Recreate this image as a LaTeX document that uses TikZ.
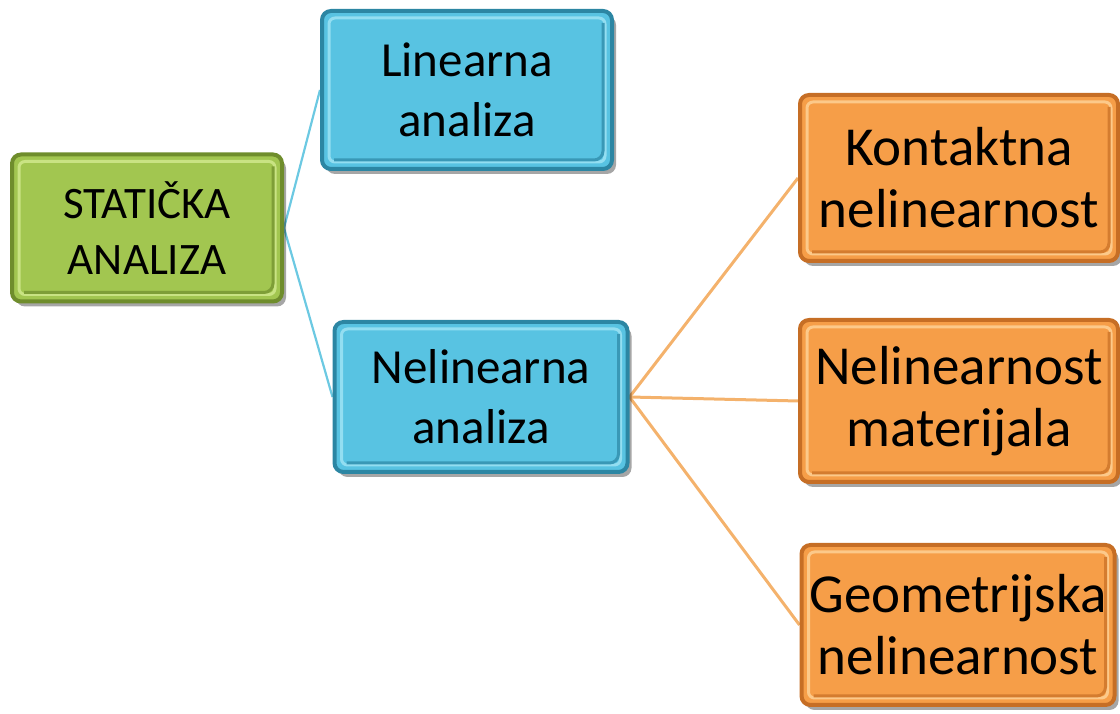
\documentclass[tikz,border=0pt]{standalone}
\usepackage{fontspec}
\setmainfont{Carlito}
\usetikzlibrary{shadows,backgrounds}
\definecolor{grnface}{HTML}{A2C650}
\definecolor{grnlight}{HTML}{C9E383}
\definecolor{grndark}{HTML}{6F8D2C}
\definecolor{bluface}{HTML}{58C3E2}
\definecolor{blulight}{HTML}{93DEF1}
\definecolor{bludark}{HTML}{2C86A3}
\definecolor{orgface}{HTML}{F69E48}
\definecolor{orglight}{HTML}{FCC98A}
\definecolor{orgdark}{HTML}{C66E25}
\definecolor{bluline}{HTML}{6CC9E2}
\definecolor{orgline}{HTML}{F4B26C}
\tikzset{
  box/.style n args={3}{
    draw=#3, line width=4pt, rounded corners=9pt,
    fill=#1,
    align=center, inner sep=0pt,
    drop shadow={shadow xshift=4pt, shadow yshift=-5pt, fill=black, opacity=0.35},
    path picture={
      \draw[#2, line width=3pt, rounded corners=6pt]
        ([shift={(7pt,-7pt)}]path picture bounding box.north west) rectangle
        ([shift={(-7pt,7pt)}]path picture bounding box.south east);
      \draw[#3!70!#1, line width=3pt]
        ([shift={(12pt,9pt)}]path picture bounding box.south west) --
        ([shift={(-9pt,9pt)}]path picture bounding box.south east) --
        ([shift={(-9pt,-12pt)}]path picture bounding box.north east);
    }
  },
  greenbox/.style={box={grnface}{grnlight}{grndark}, font=\fontsize{45}{56}\selectfont},
  bluebox/.style={box={bluface}{blulight}{bludark}, font=\fontsize{49}{60}\selectfont},
  orangebox/.style={box={orgface}{orglight}{orgdark}, font=\fontsize{55}{62}\selectfont},
  blueconn/.style={draw=bluline, line width=2.2pt},
  orangeconn/.style={draw=orgline, line width=3pt}
}
\begin{document}
\begin{tikzpicture}[x=1pt,y=1pt]
\useasboundingbox (0,0) rectangle (1120,714);
\node[greenbox, minimum width=270pt, minimum height=147pt] (stat) at (147,486) {STATIČKA\\ANALIZA};
\node[bluebox, minimum width=290pt, minimum height=158pt] (lin) at (467,624) {Linearna\\analiza};
\node[bluebox, minimum width=293pt, minimum height=150pt] (nel) at (481,317) {Nelinearna\\analiza};
\node[orangebox, minimum width=318pt, minimum height=166pt] (kon) at (959,536) {Kontaktna\\nelinearnost};
\node[orangebox, minimum width=318pt, minimum height=162pt] (mat) at (959,313) {Nelinearnost\\materijala};
\node[orangebox, minimum width=313pt, minimum height=160pt] (geo) at (958,89) {Geometrijska\\nelinearnost};
\begin{scope}[on background layer]
\draw[blueconn] (lin.west) -- (stat.east) -- (nel.west);
\draw[orangeconn] (nel.east) -- (kon.west);
\draw[orangeconn] (nel.east) -- (mat.west);
\draw[orangeconn] (nel.east) -- (geo.west);
\end{scope}
\end{tikzpicture}
\end{document}
